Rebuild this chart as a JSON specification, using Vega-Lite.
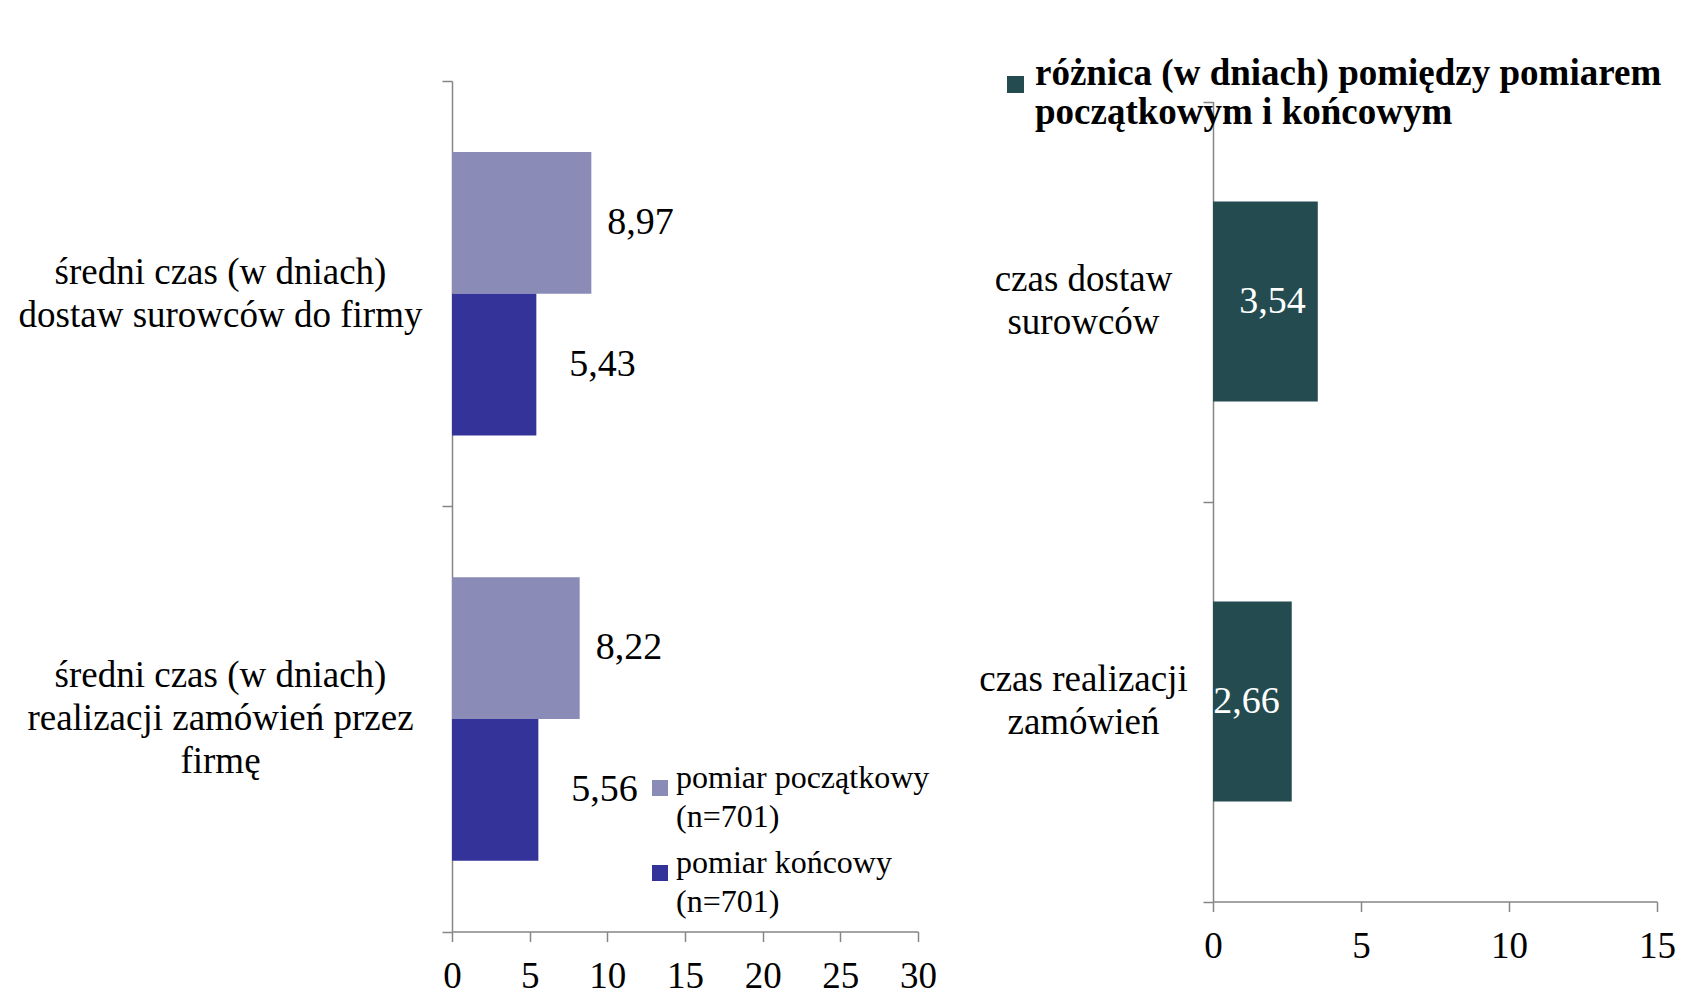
{
  "$schema": "https://vega.github.io/schema/vega-lite/v6.json",
  "background": "white",
  "padding": {"left": 18, "top": 40, "right": 0, "bottom": 0},
  "autosize": {"type": "pad"},
  "config": {
    "font": "Liberation Serif",
    "view": {"stroke": null},
    "locale": {"number": {"decimal": ",", "thousands": " ", "grouping": [3], "currency": ["", " zł"]}},
    "axis": {"labelFont": "Liberation Serif", "labelFontSize": 37, "labelColor": "black", "domainColor": "#868686", "tickColor": "#868686", "domainWidth": 1.5, "tickWidth": 1.5, "tickSize": 10, "grid": false},
    "legend": {"labelFont": "Liberation Serif", "labelColor": "black", "labelLimit": 0, "padding": 0},
    "style": {"guide-label": {"lineHeight": 39}}
  },
  "datasets": {
    "lewy": [
      {"kategoria": "średni czas (w dniach)\ndostaw surowców do firmy", "seria": "pomiar początkowy\n(n=701)", "wartosc": 8.97},
      {"kategoria": "średni czas (w dniach)\ndostaw surowców do firmy", "seria": "pomiar końcowy\n(n=701)", "wartosc": 5.43},
      {"kategoria": "średni czas (w dniach)\nrealizacji zamówień przez\nfirmę", "seria": "pomiar początkowy\n(n=701)", "wartosc": 8.22},
      {"kategoria": "średni czas (w dniach)\nrealizacji zamówień przez\nfirmę", "seria": "pomiar końcowy\n(n=701)", "wartosc": 5.56}
    ],
    "prawy": [
      {"kategoria": "czas dostaw\nsurowców", "seria": "różnica (w dniach) pomiędzy pomiarem\npoczątkowym i końcowym", "wartosc": 3.54},
      {"kategoria": "czas realizacji\nzamówień", "seria": "różnica (w dniach) pomiędzy pomiarem\npoczątkowym i końcowym", "wartosc": 2.66}
    ]
  },
  "spacing": 41,
  "resolve": {"scale": {"color": "independent", "x": "independent", "y": "independent"}, "legend": {"color": "independent"}},
  "hconcat": [
    {
      "width": 466,
      "height": 850.6,
      "data": {"name": "lewy"},
      "encoding": {
        "y": {"field": "kategoria", "type": "nominal", "sort": null, "title": null,
          "scale": {"paddingInner": 0, "paddingOuter": 0},
          "axis": {"tickBand": "extent", "labelAlign": "center", "labelPadding": 222, "labelLineHeight": 43, "labelOffset": -21,
            "labelBaseline": {"condition": {"test": "length(split(datum.value, '\\n')) > 2", "value": "line-bottom"}, "value": "middle"},
            "labelExpr": "split(datum.label, '\\n')", "labelLimit": 0}},
        "yOffset": {"field": "seria", "type": "nominal", "sort": null, "scale": {"paddingInner": 0, "paddingOuter": 0.5}},
        "x": {"field": "wartosc", "type": "quantitative", "title": null, "scale": {"domain": [0, 30]},
          "axis": {"values": [0, 5, 10, 15, 20, 25, 30], "labelPadding": 17, "labelBaseline": "top", "labelFlush": false, "labelAngle": 0}}
      },
      "layer": [
        {
          "mark": {"type": "bar"},
          "encoding": {
            "color": {"field": "seria", "type": "nominal", "sort": null,
              "scale": {"range": ["#8A8BB6", "#343399"]},
              "legend": {"title": null, "orient": "none", "legendX": 192, "legendY": 691, "labelFontSize": 32, "symbolType": "square", "symbolSize": 256, "symbolStrokeWidth": 0, "labelOffset": 0, "rowPadding": 14, "labelBaseline": "alphabetic", "labelExpr": "split(datum.label, '\\n')"}}
          }
        },
        {
          "transform": [{"filter": {"field": "seria", "equal": "pomiar początkowy\n(n=701)"}}],
          "mark": {"type": "text", "align": "left", "baseline": "middle", "dx": 16, "fontSize": 38, "font": "Liberation Serif", "color": "black"},
          "encoding": {"text": {"field": "wartosc", "type": "quantitative", "format": ".2f"}}
        },
        {
          "transform": [{"filter": {"field": "seria", "equal": "pomiar końcowy\n(n=701)"}}],
          "mark": {"type": "text", "align": "left", "baseline": "middle", "dx": 33, "fontSize": 38, "font": "Liberation Serif", "color": "black"},
          "encoding": {"text": {"field": "wartosc", "type": "quantitative", "format": ".2f"}}
        }
      ]
    },
    {
      "width": 444,
      "height": 820.6,
      "data": {"name": "prawy"},
      "encoding": {
        "y": {"field": "kategoria", "type": "nominal", "sort": null, "title": null,
          "scale": {"paddingInner": 0, "paddingOuter": 0, "range": [20.6, 820.6]},
          "axis": {"tickBand": "extent", "labelAlign": "center", "labelPadding": 120, "labelBaseline": "line-bottom", "labelLineHeight": 43, "labelExpr": "split(datum.label, '\\n')", "labelLimit": 0}},
        "x": {"field": "wartosc", "type": "quantitative", "title": null, "scale": {"domain": [0, 15]},
          "axis": {"values": [0, 5, 10, 15], "labelPadding": 17, "labelBaseline": "top", "labelFlush": false, "labelAngle": 0}}
      },
      "layer": [
        {
          "mark": {"type": "bar", "height": {"band": 0.5}},
          "encoding": {
            "color": {"field": "seria", "type": "nominal",
              "scale": {"range": ["#234B50"]},
              "legend": {"title": null, "orient": "none", "legendX": -216, "legendY": -15, "labelFontSize": 37, "labelFontWeight": "bold", "symbolType": "square", "symbolSize": 289, "symbolStrokeWidth": 0, "labelOffset": 1, "labelBaseline": "alphabetic", "labelExpr": "split(datum.label, '\\n')"}}
          }
        },
        {
          "mark": {"type": "text", "align": "right", "baseline": "middle", "dx": -12, "fontSize": 38, "font": "Liberation Serif", "color": "white"},
          "encoding": {"text": {"field": "wartosc", "type": "quantitative", "format": ".2f"}}
        }
      ]
    }
  ]
}
